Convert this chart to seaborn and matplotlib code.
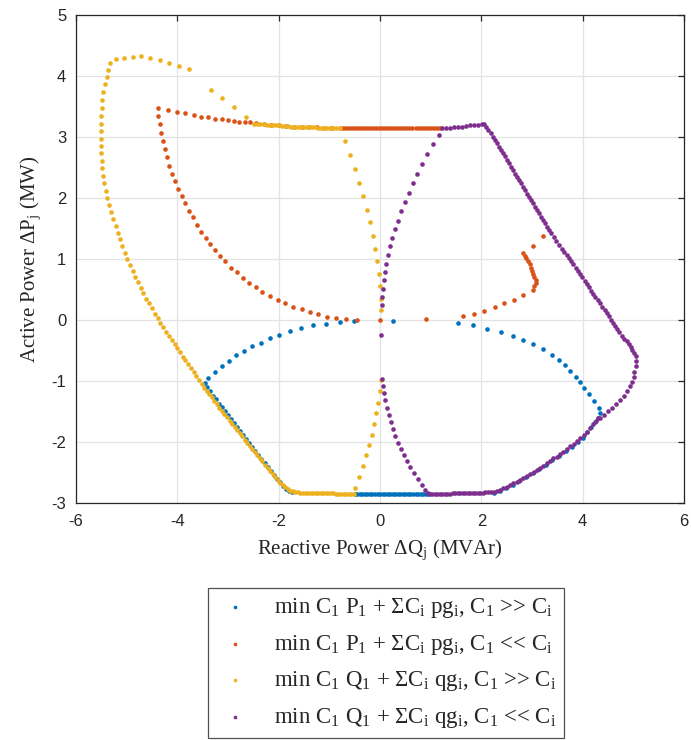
import numpy as np
import pandas as pd
import matplotlib
matplotlib.use("Agg")
import matplotlib.pyplot as plt
import seaborn as sns

# Data: reactive power (x) and active power (y)
blue_q = [-0.51, 0.26,
          -0.80, -1.07, -1.32, -1.56, -1.78, -1.99, -2.18, -2.35, -2.53, -2.68, -2.84, -2.99, -3.12, -3.26, -3.39, -3.45,
          -3.42, -3.36, -3.30, -3.24, -3.18, -3.12, -3.06, -3.00, -2.94, -2.88, -2.82, -2.76, -2.70, -2.64, -2.58,
          -2.52, -2.46, -2.40, -2.34, -2.28, -2.22, -2.16, -2.10, -2.04, -1.98, -1.92, -1.86, -1.80, -1.74,
          -0.50, -0.45, -0.40, -0.35, -0.30, -0.25, -0.20, -0.15, -0.10, -0.05, 0.00, 0.05, 0.10, 0.15, 0.20,
          0.25, 0.30, 0.35, 0.40, 0.45, 0.50, 0.55, 0.60, 0.65, 0.70, 0.75, 0.80, 0.85, 0.90, 0.95,
          1.53, 1.84, 2.12, 2.38, 2.62, 2.82, 3.01, 3.21, 3.39, 3.53, 3.64, 3.75, 3.86, 3.94, 4.03, 4.13, 4.23,
          4.32, 4.34, 4.30,
          4.24, 4.17, 4.09, 4.00, 3.90, 3.78, 3.66, 3.53, 3.40, 3.27, 3.14, 3.01, 2.88, 2.75, 2.62, 2.49, 2.36, 2.24]
blue_p = [-0.02, -0.02,
          -0.03, -0.06, -0.09, -0.13, -0.18, -0.24, -0.30, -0.37, -0.43, -0.51, -0.58, -0.67, -0.76, -0.85, -0.95, -1.03,
          -1.10, -1.17, -1.24, -1.30, -1.37, -1.43, -1.50, -1.56, -1.63, -1.69, -1.76, -1.82, -1.89, -1.95, -2.02,
          -2.08, -2.15, -2.21, -2.28, -2.34, -2.41, -2.47, -2.54, -2.60, -2.66, -2.72, -2.77, -2.80, -2.82,
          -2.85, -2.85, -2.85, -2.85, -2.85, -2.85, -2.85, -2.86, -2.86, -2.86, -2.86, -2.86, -2.86, -2.86, -2.86,
          -2.86, -2.86, -2.86, -2.86, -2.86, -2.86, -2.86, -2.86, -2.86, -2.86, -2.86, -2.86, -2.86, -2.86, -2.86,
          -0.05, -0.09, -0.14, -0.20, -0.26, -0.33, -0.40, -0.48, -0.57, -0.66, -0.74, -0.84, -0.93, -1.02, -1.12,
          -1.22, -1.33, -1.44, -1.53, -1.61,
          -1.68, -1.76, -1.84, -1.93, -2.00, -2.08, -2.15, -2.23, -2.30, -2.37, -2.44, -2.51, -2.57, -2.64, -2.70,
          -2.75, -2.80, -2.84]

red_q = [-4.39, -4.19, -4.01, -3.84, -3.68, -3.53, -3.39, -3.25, -3.12, -3.01, -2.89, -2.78, -2.67, -2.57,
         -2.45, -2.30, -2.15, -2.00, -1.85, -1.70, -1.55, -1.40, -1.25, -1.10, -0.95,
         -0.80, -0.74, -0.68, -0.62, -0.56, -0.50, -0.44, -0.38, -0.32, -0.26, -0.20, -0.14, -0.08, -0.02, 0.04,
         0.10, 0.16, 0.22, 0.28, 0.34, 0.40, 0.46, 0.52, 0.58, 0.64, 0.70, 0.76, 0.82, 0.88, 0.94, 1.00, 1.06,
         1.12, 1.18,
         -4.38, -4.35, -4.32, -4.28, -4.24, -4.20, -4.16, -4.10, -4.04, -3.98, -3.91, -3.85, -3.78, -3.70, -3.62,
         -3.53, -3.44, -3.36, -3.26, -3.16, -3.05, -2.94, -2.83, -2.71, -2.59, -2.45, -2.32, -2.17, -2.02, -1.87,
         -1.71, -1.55, -1.39, -1.22, -1.05, -0.86, -0.67, -0.45,
         -0.01, 0.91,
         1.63, 1.86, 2.06, 2.26, 2.45, 2.64, 2.83, 3.01, 3.04, 3.07, 3.07, 3.04, 3.02, 3.00, 2.97, 2.95, 2.92,
         2.89, 2.86, 2.82, 3.01, 3.22]
red_p = [3.48, 3.44, 3.41, 3.39, 3.36, 3.33, 3.32, 3.30, 3.29, 3.27, 3.26, 3.25, 3.24, 3.24,
         3.23, 3.21, 3.20, 3.19, 3.18, 3.17, 3.17, 3.16, 3.16, 3.15, 3.15,
         3.14, 3.14, 3.14, 3.14, 3.14, 3.14, 3.14, 3.14, 3.14, 3.14, 3.14, 3.14, 3.14, 3.14, 3.14,
         3.14, 3.14, 3.14, 3.14, 3.14, 3.14, 3.14, 3.14, 3.14, 3.14, 3.14, 3.14, 3.14, 3.14, 3.14, 3.14, 3.14,
         3.14, 3.14,
         3.34, 3.21, 3.07, 2.93, 2.80, 2.67, 2.53, 2.40, 2.27, 2.15, 2.03, 1.91, 1.79, 1.68, 1.56,
         1.45, 1.34, 1.25, 1.14, 1.05, 0.96, 0.86, 0.78, 0.69, 0.61, 0.54, 0.46, 0.39, 0.33, 0.27,
         0.22, 0.18, 0.13, 0.09, 0.05, 0.03, 0.01, 0.00,
         0.00, 0.01,
         0.07, 0.10, 0.15, 0.21, 0.27, 0.33, 0.41, 0.49, 0.55, 0.61, 0.66, 0.71, 0.76, 0.81, 0.86, 0.91, 0.96,
         1.01, 1.05, 1.09, 1.22, 1.37]

yel_q = [-5.32, -5.22, -5.05, -4.88, -4.72, -4.54, -4.35, -4.16, -3.97, -3.78, -3.34, -3.11, -2.89, -2.64,
         -2.48, -2.42, -2.36, -2.30, -2.24, -2.18, -2.12, -2.06, -2.00, -1.94, -1.88, -1.82, -1.76, -1.70, -1.64,
         -1.58, -1.52, -1.46, -1.40, -1.34, -1.28, -1.22, -1.16, -1.10, -1.04, -0.98, -0.92, -0.86, -0.80,
         -0.69, -0.59, -0.49, -0.41, -0.33, -0.26, -0.20, -0.14, -0.10, -0.06, -0.03, -0.01, 0.01, 0.02,
         0.01, -0.01, -0.04, -0.08, -0.12, -0.16, -0.22, -0.28, -0.34, -0.41, -0.49,
         -5.36, -5.39, -5.43, -5.47, -5.48, -5.49, -5.50, -5.51, -5.51, -5.51, -5.51, -5.50, -5.49, -5.49, -5.47,
         -5.45, -5.41, -5.38, -5.35, -5.31, -5.27, -5.22, -5.18, -5.13, -5.09, -5.03, -4.99, -4.93, -4.88, -4.83,
         -4.78, -4.72, -4.67, -4.61, -4.56, -4.51, -4.45, -4.39, -4.34, -4.28, -4.22, -4.16, -4.11, -4.05, -4.00,
         -3.95, -3.89, -3.84, -3.79, -3.74, -3.68, -3.63, -3.58, -3.52,
         -3.47, -3.42, -3.37, -3.32, -3.27, -3.22, -3.17, -3.12, -3.07, -3.02, -2.97, -2.92, -2.87, -2.82, -2.77,
         -2.72, -2.67, -2.62, -2.57, -2.52, -2.47, -2.42, -2.37, -2.32, -2.27, -2.22, -2.17, -2.12, -2.07, -2.02,
         -1.97, -1.92, -1.87, -1.82, -1.77, -1.72,
         -1.67, -1.62, -1.57, -1.52, -1.47, -1.42, -1.37, -1.32, -1.27, -1.22, -1.17, -1.12, -1.07, -1.02, -0.97,
         -0.92, -0.87, -0.82, -0.77, -0.72, -0.67, -0.62, -0.57, -0.52]
yel_p = [4.21, 4.28, 4.30, 4.31, 4.32, 4.30, 4.26, 4.22, 4.16, 4.11, 3.77, 3.64, 3.49, 3.32,
         3.22, 3.22, 3.21, 3.21, 3.20, 3.20, 3.20, 3.19, 3.19, 3.18, 3.18, 3.18, 3.17, 3.17, 3.17,
         3.17, 3.16, 3.16, 3.16, 3.16, 3.16, 3.15, 3.15, 3.15, 3.15, 3.15, 3.15, 3.14, 3.14,
         2.94, 2.71, 2.48, 2.25, 2.03, 1.81, 1.60, 1.38, 1.17, 0.97, 0.75, 0.55, 0.35, 0.16,
         -0.99, -1.17, -1.36, -1.53, -1.70, -1.88, -2.05, -2.22, -2.39, -2.57, -2.75,
         4.09, 3.98, 3.86, 3.74, 3.61, 3.48, 3.35, 3.22, 3.10, 2.97, 2.85, 2.73, 2.61, 2.49, 2.36,
         2.24, 2.12, 2.00, 1.88, 1.77, 1.65, 1.54, 1.43, 1.32, 1.21, 1.10, 1.00, 0.90, 0.80, 0.71,
         0.62, 0.52, 0.44, 0.35, 0.27, 0.19, 0.10, 0.03, -0.05, -0.12, -0.19, -0.26, -0.33, -0.40, -0.46,
         -0.53, -0.60, -0.66, -0.73, -0.79, -0.86, -0.92, -0.99, -1.05,
         -1.11, -1.17, -1.22, -1.27, -1.33, -1.38, -1.44, -1.49, -1.54, -1.59, -1.65, -1.70, -1.75, -1.81, -1.86,
         -1.91, -1.96, -2.01, -2.07, -2.12, -2.17, -2.22, -2.27, -2.32, -2.37, -2.43, -2.48, -2.53, -2.58, -2.63,
         -2.67, -2.71, -2.74, -2.77, -2.80, -2.81,
         -2.82, -2.82, -2.83, -2.83, -2.83, -2.83, -2.83, -2.83, -2.84, -2.84, -2.84, -2.84, -2.84, -2.84, -2.84,
         -2.84, -2.85, -2.85, -2.85, -2.85, -2.85, -2.85, -2.85, -2.85]

pur_q = [1.22, 1.30, 1.38, 1.46, 1.54, 1.62, 1.70, 1.78, 1.86, 1.94, 2.02,
         2.06, 2.10, 2.14, 2.18, 2.22, 2.26, 2.30, 2.34, 2.38, 2.42, 2.46, 2.50, 2.54, 2.58, 2.62, 2.66, 2.70,
         2.74, 2.78, 2.82, 2.86, 2.90, 2.94, 2.98, 3.02, 3.06, 3.10, 3.14, 3.18, 3.22, 3.26, 3.30, 3.34, 3.38,
         3.43, 3.48, 3.54, 3.59, 3.63, 3.68, 3.73, 3.77, 3.81, 3.86, 3.90, 3.95, 3.99, 4.04, 4.08, 4.12, 4.17,
         4.21, 4.25, 4.30, 4.34, 4.38, 4.43, 4.47, 4.51, 4.55, 4.59, 4.63, 4.67, 4.71,
         4.77, 4.82, 4.87, 4.91, 4.95, 4.98, 5.02, 5.05, 5.05, 5.05, 5.02, 5.01, 4.98, 4.94, 4.87, 4.81, 4.73,
         4.65, 4.57, 4.49, 4.42, 4.34,
         4.31, 4.26, 4.21, 4.15, 4.08, 4.02, 3.95, 3.88, 3.82, 3.75, 3.68, 3.62, 3.55, 3.49, 3.42, 3.36, 3.29,
         3.22, 3.16, 3.10, 3.03, 2.96, 2.90, 2.83, 2.76, 2.70, 2.63, 2.56, 2.50, 2.43, 2.37, 2.30, 2.24,
         2.18, 2.13, 2.08, 2.03, 1.98, 1.93, 1.88, 1.83, 1.78, 1.73, 1.68, 1.63, 1.58, 1.53, 1.48, 1.43, 1.38,
         1.33, 1.28, 1.23, 1.18, 1.13, 1.08, 1.03, 0.98,
         1.16, 1.05, 0.93, 0.83, 0.73, 0.65, 0.57, 0.49, 0.42, 0.36, 0.30, 0.24, 0.20, 0.16, 0.12, 0.09, 0.07,
         0.05, 0.03, 0.03, 0.02,
         0.03, 0.05, 0.07, 0.10, 0.13, 0.17, 0.21, 0.25, 0.30, 0.36, 0.41, 0.47, 0.53, 0.60, 0.67, 0.74, 0.82,
         0.89, 0.95]
pur_p = [3.15, 3.15, 3.15, 3.16, 3.16, 3.17, 3.18, 3.19, 3.20, 3.20, 3.21,
         3.21, 3.17, 3.11, 3.06, 3.00, 2.95, 2.90, 2.84, 2.79, 2.73, 2.68, 2.62, 2.57, 2.51, 2.46, 2.40, 2.35,
         2.29, 2.24, 2.18, 2.13, 2.07, 2.02, 1.96, 1.91, 1.85, 1.80, 1.75, 1.69, 1.64, 1.59, 1.53, 1.48, 1.43,
         1.36, 1.30, 1.23, 1.17, 1.12, 1.07, 1.01, 0.96, 0.91, 0.85, 0.80, 0.75, 0.70, 0.64, 0.59, 0.54, 0.48,
         0.43, 0.38, 0.32, 0.27, 0.22, 0.16, 0.11, 0.06, 0.00, -0.05, -0.10, -0.15, -0.20,
         -0.26, -0.31, -0.35, -0.39, -0.44, -0.49, -0.54, -0.59, -0.67, -0.76, -0.85, -0.93, -1.02, -1.09, -1.16,
         -1.24, -1.31, -1.37, -1.44, -1.50, -1.56, -1.61,
         -1.60, -1.65, -1.70, -1.77, -1.83, -1.89, -1.94, -1.99, -2.03, -2.07, -2.11, -2.16, -2.20, -2.24, -2.27,
         -2.31, -2.35, -2.39, -2.42, -2.46, -2.49, -2.52, -2.55, -2.59, -2.62, -2.65, -2.68, -2.71, -2.73, -2.76,
         -2.78, -2.80, -2.82,
         -2.82, -2.82, -2.82, -2.83, -2.83, -2.83, -2.83, -2.83, -2.83, -2.84, -2.84, -2.84, -2.84, -2.84, -2.84,
         -2.84, -2.85, -2.85, -2.85, -2.85, -2.85, -2.85, -2.85, -2.85, -2.85,
         3.04, 2.88, 2.72, 2.55, 2.39, 2.24, 2.08, 1.93, 1.78, 1.63, 1.49, 1.35, 1.21, 1.07, 0.92, 0.79, 0.65,
         0.51, 0.38, 0.25, -0.25,
         -0.96, -1.08, -1.20, -1.32, -1.44, -1.56, -1.67, -1.79, -1.90, -2.02, -2.12, -2.22, -2.32, -2.41, -2.51,
         -2.61, -2.70, -2.78, -2.84]

labels = [r"min C$_1$ P$_1$ + ΣC$_i$ pg$_i$, C$_1$ >> C$_i$",
          r"min C$_1$ P$_1$ + ΣC$_i$ pg$_i$, C$_1$ << C$_i$",
          r"min C$_1$ Q$_1$ + ΣC$_i$ qg$_i$, C$_1$ >> C$_i$",
          r"min C$_1$ Q$_1$ + ΣC$_i$ qg$_i$, C$_1$ << C$_i$"]
colors = ["#0072BD", "#D95319", "#EDB120", "#7E2F8E"]

sns.set_theme(style="white")
plt.rcParams["axes.unicode_minus"] = False
plt.rcParams["mathtext.fontset"] = "custom"
plt.rcParams["mathtext.rm"] = "Liberation Serif"
plt.rcParams["mathtext.default"] = "regular"

fig = plt.figure(figsize=(6.91, 7.40), dpi=100)
ax = fig.add_axes([0.110, 0.3203, 0.880, 0.6595])

series = [(blue_q, blue_p), (red_q, red_p), (yel_q, yel_p), (pur_q, pur_p)]
for (q, p), lab, col in zip(series, labels, colors):
    sns.scatterplot(x=q, y=p, color=col, s=11, linewidth=0, ax=ax, label=lab, zorder=3)

ax.set_xlim(-6, 6)
ax.set_ylim(-3, 5)
ax.set_xticks(range(-6, 7, 2))
ax.set_yticks(range(-3, 6))
ax.grid(True, color="#e3e3e3", linewidth=0.9)
ax.set_axisbelow(True)
ax.tick_params(direction="in", top=True, right=True, length=4, width=0.9,
               color="#262626", labelsize=12, labelcolor="#262626")
ax.tick_params(axis="x", pad=8)
ax.tick_params(axis="y", pad=7)
for lab in ax.get_xticklabels() + ax.get_yticklabels():
    lab.set_family("Liberation Sans")
for sp in ax.spines.values():
    sp.set_color("#262626")
    sp.set_linewidth(0.9)

ax.set_xlabel(r"Reactive Power ΔQ$_j$ (MVAr)", family="Liberation Serif", fontsize=15,
              color="#262626", labelpad=6)
ax.set_ylabel(r"Active Power ΔP$_j$ (MW)", family="Liberation Serif", fontsize=15,
              color="#262626", labelpad=6)

handles, labs = ax.get_legend_handles_labels()
if ax.get_legend() is not None:
    ax.get_legend().remove()
leg = fig.legend(handles, labs, loc="upper center", bbox_to_anchor=(0.559, 0.2054),
                 prop={"family": "Liberation Serif", "size": 16.5}, frameon=True, fancybox=False,
                 edgecolor="#262626", markerscale=0.8, handletextpad=0.9, borderpad=0.35,
                 labelspacing=0.55, handlelength=1.6, borderaxespad=0)
leg.get_frame().set_linewidth(0.9)

fig.savefig("out.png", dpi=100)
